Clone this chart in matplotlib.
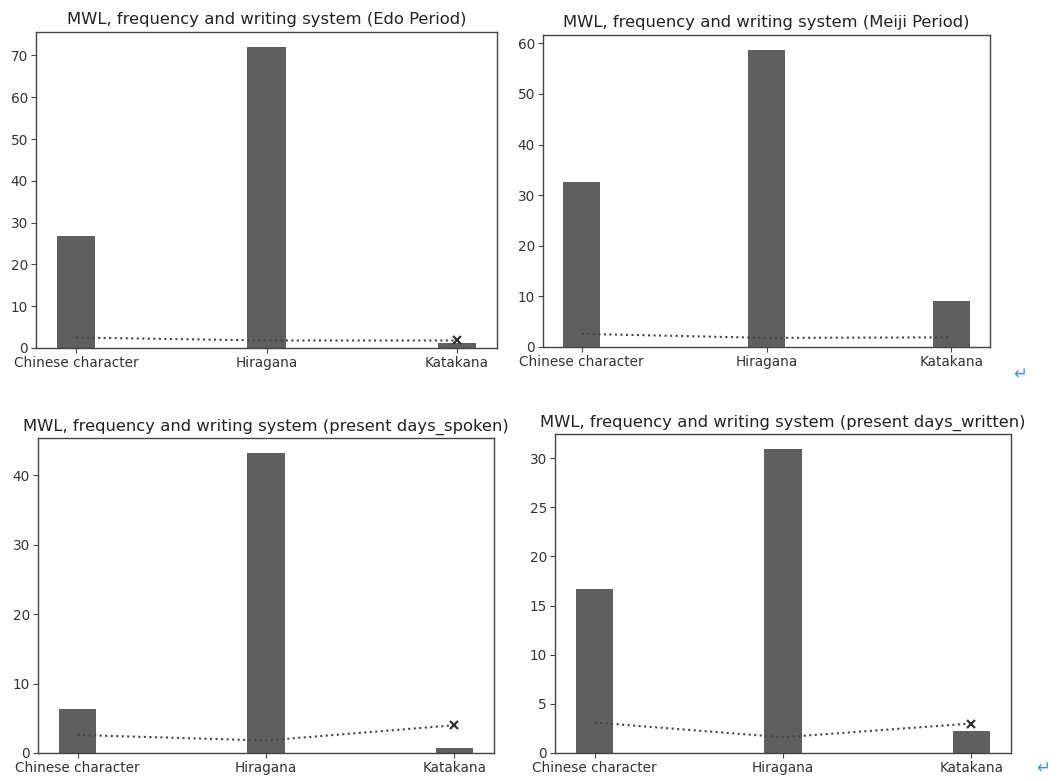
import numpy as np
import matplotlib
matplotlib.use("Agg")
import matplotlib.pyplot as plt

systems = ["Chinese character", "Hiragana", "Katakana"]

periods = ["Edo Period", "Meiji Period", "present days_spoken", "present days_written"]

# bar: share of each writing system, line: mean MWL
share_edo = [26.8, 72.0, 1.3]
share_meiji = [32.6, 58.7, 9.0]
share_spoken = [6.3, 43.2, 0.7]
share_written = [16.7, 30.9, 2.2]

mwl_edo = [2.5, 1.8, 1.8]
mwl_meiji = [2.6, 1.8, 1.9]
mwl_spoken = [2.6, 1.8, 4.0]
mwl_written = [3.1, 1.6, 3.0]

# whether the last point of the MWL line gets a cross
end_mark = [True, False, True, True]

shares = [share_edo, share_meiji, share_spoken, share_written]
mwls = [mwl_edo, mwl_meiji, mwl_spoken, mwl_written]

W, H = 1058, 781
# axes boxes in pixels: left, right, top, bottom
boxes = [(36, 497, 32, 348),
         (543, 990, 35, 347),
         (38, 494, 438, 753),
         (555, 1011, 434, 753)]

fig = plt.figure(figsize=(W / 100, H / 100), dpi=100)

x = np.arange(len(systems))
for (l, r, t, b), period, share, mwl, mark in zip(boxes, periods, shares, mwls, end_mark):
    ax = fig.add_axes([l / W, 1 - b / H, (r - l) / W, (b - t) / H])
    ax.bar(x, share, width=0.2, color="#5f5f5f")
    ax.plot(x, mwl, color="#444444", linestyle=":", linewidth=1.5,
            marker="x" if mark else None, markevery=[len(x) - 1],
            markersize=5.5, markeredgewidth=1.6, markeredgecolor="#333333")
    ax.set_xticks(x)
    ax.set_xticklabels(systems)
    ax.tick_params(labelsize=9.8, length=3.3, width=0.8, pad=2.5,
                   labelcolor="#333333", color="#444444")
    for s in ax.spines.values():
        s.set_linewidth(1.0)
        s.set_color("#444444")
    ax.set_title("MWL, frequency and writing system (" + period + ")",
                 fontsize=11.8, pad=5.5, color="#222222")

# paragraph marks from the surrounding document
fig.text(1013 / W, 1 - 374 / H, "\u21b5", color="#3a8fe0", fontsize=12, va="center")
fig.text(1036 / W, 1 - 768 / H, "\u21b5", color="#3a8fe0", fontsize=12, va="center")

fig.savefig("out.png", dpi=100)
